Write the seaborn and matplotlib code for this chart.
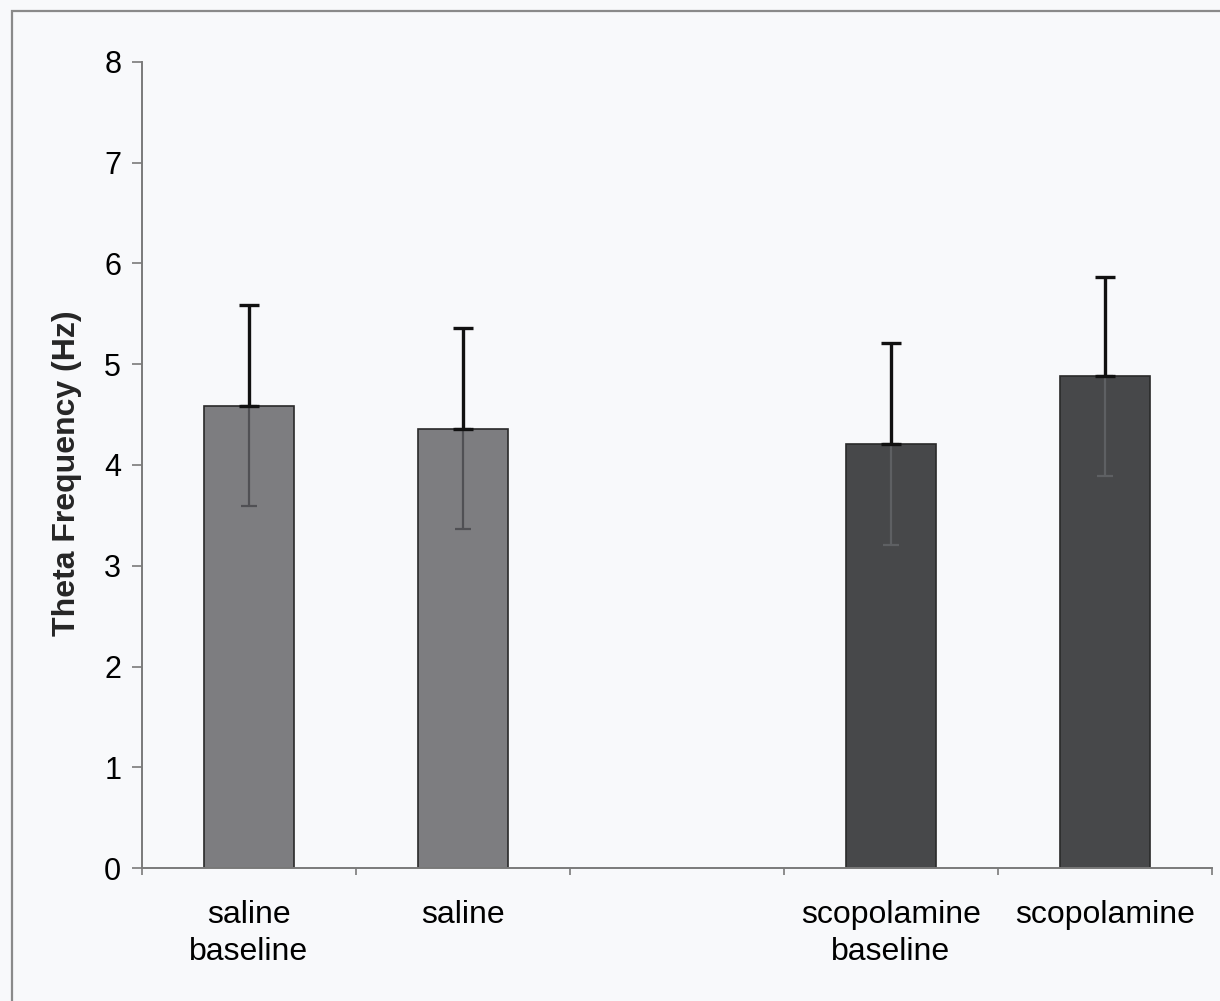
import numpy as np
import pandas as pd
import seaborn as sns
import matplotlib.pyplot as plt
from matplotlib.patches import Rectangle
from matplotlib.ticker import FixedLocator

# ---- data ----
conditions = ["saline\nbaseline", "saline", " ", "scopolamine\nbaseline", "scopolamine"]
theta_hz = [4.59, 4.36, np.nan, 4.21, 4.88]
sem_hz = [1.00, 1.00, np.nan, 1.00, 0.99]
bar_colors = ["#7c7c80", "#7c7c80", "#ffffff", "#46484b", "#46484b"]

df = pd.DataFrame({"condition": conditions, "theta": theta_hz, "sem": sem_hz})
plotted = df.dropna()

sns.set_style("white")
plt.rcParams["font.family"] = ["Liberation Sans", "DejaVu Sans"]
plt.rcParams["text.color"] = "black"
plt.rcParams["xtick.labelcolor"] = "black"
plt.rcParams["ytick.labelcolor"] = "black"

fig = plt.figure(figsize=(12.2, 10.01), dpi=100)
bg = "#f8f9fb"
fig.patch.set_facecolor(bg)
ax = fig.add_axes([142 / 1220, 133 / 1001, 1070 / 1220, 806 / 1001])
ax.set_facecolor(bg)

# outer chart frame (only left and top edges fall inside the picture)
fig.patches.append(Rectangle((12 / 1220, -0.1), 1.2, 1.1 - 11 / 1001, transform=fig.transFigure,
                             fill=False, edgecolor="#8a8a8a", linewidth=1.6, zorder=0))

sns.barplot(data=plotted, x="condition", y="theta", hue="condition", order=conditions,
            hue_order=conditions, palette=dict(zip(conditions, bar_colors)), legend=False,
            width=0.42, edgecolor="#2a2a2a", linewidth=1.2, errorbar=None, ax=ax)

# error bars: upper whisker black, lower whisker visible faintly through the bar
bars = [p for p in ax.patches if p.get_height() > 0]
inner_colors = ["#505054", "#505054", "#5e6063", "#5e6063"]
for bar, err, inner in zip(bars, plotted["sem"], inner_colors):
    xc = bar.get_x() + bar.get_width() / 2
    h = bar.get_height()
    ax.errorbar(xc, h, yerr=[[0], [err]], color="#111111", elinewidth=2.4,
                capsize=7, capthick=2.4, zorder=5)
    ax.errorbar(xc, h, yerr=[[err], [0]], color=inner, elinewidth=1.6,
                capsize=6, capthick=1.6, zorder=4)

ax.set_ylim(0, 8)
ax.set_xlim(-0.5, 4.5)
ax.set_yticks(range(0, 9))
ax.xaxis.set_minor_locator(FixedLocator(np.arange(-0.5, 4.6, 1.0)))

for side in ["top", "right"]:
    ax.spines[side].set_visible(False)
for side in ["left", "bottom"]:
    ax.spines[side].set_color("#7a7a7a")
    ax.spines[side].set_linewidth(1.4)

ax.tick_params(axis="y", direction="out", length=7, width=1.2, color="#7a7a7a",
               labelsize=22, pad=8, left=True)
ax.tick_params(axis="x", which="major", length=0, labelsize=23, pad=23)
ax.tick_params(axis="x", which="minor", direction="out", length=5, width=1.2,
               color="#7a7a7a", bottom=True)
for lab in ax.get_xticklabels():
    lab.set_linespacing(1.3)

ax.set_xlabel("")
ax.set_ylabel("Theta Frequency (Hz)", fontsize=23, fontweight="bold")
ax.yaxis.set_label_coords(-0.056, 0.49)

fig.savefig("out.png", dpi=100, facecolor=bg)
